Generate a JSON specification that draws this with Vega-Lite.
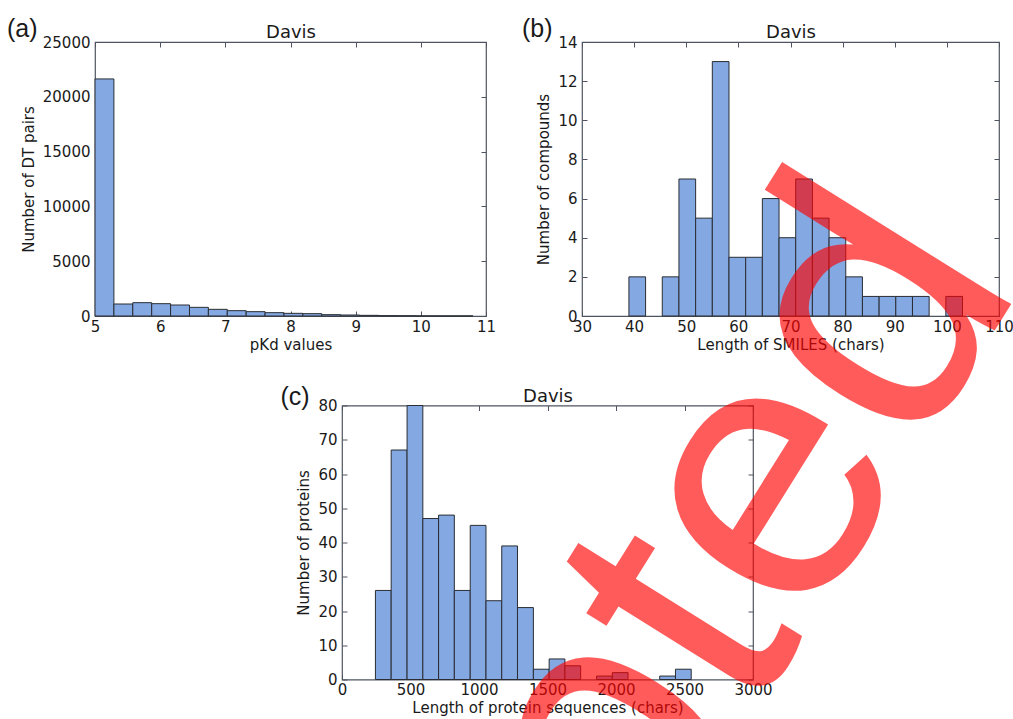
{
  "$schema": "https://vega.github.io/schema/vega-lite/v6.json",
  "autosize": {"type": "none"},
  "padding": {"left": 95, "top": 42, "right": 918, "bottom": 677},
  "background": "white",
  "spacing": -228.5,
  "datasets": {
    "a": [
      {"bin_start": 5.0, "bin_end": 5.29, "count": 21630},
      {"bin_start": 5.29, "bin_end": 5.58, "count": 1094},
      {"bin_start": 5.58, "bin_end": 5.87, "count": 1215},
      {"bin_start": 5.87, "bin_end": 6.16, "count": 1124},
      {"bin_start": 6.16, "bin_end": 6.45, "count": 1003},
      {"bin_start": 6.45, "bin_end": 6.74, "count": 790},
      {"bin_start": 6.74, "bin_end": 7.03, "count": 608},
      {"bin_start": 7.03, "bin_end": 7.32, "count": 486},
      {"bin_start": 7.32, "bin_end": 7.61, "count": 395},
      {"bin_start": 7.61, "bin_end": 7.9, "count": 304},
      {"bin_start": 7.9, "bin_end": 8.19, "count": 243},
      {"bin_start": 8.19, "bin_end": 8.48, "count": 213},
      {"bin_start": 8.48, "bin_end": 8.77, "count": 122},
      {"bin_start": 8.77, "bin_end": 9.06, "count": 91},
      {"bin_start": 9.06, "bin_end": 9.35, "count": 61},
      {"bin_start": 9.35, "bin_end": 9.64, "count": 30},
      {"bin_start": 9.64, "bin_end": 9.93, "count": 20},
      {"bin_start": 9.93, "bin_end": 10.22, "count": 8},
      {"bin_start": 10.22, "bin_end": 10.51, "count": 5},
      {"bin_start": 10.51, "bin_end": 10.8, "count": 3}
    ],
    "b": [
      {"bin_start": 39.0, "bin_end": 42.2, "count": 2},
      {"bin_start": 45.4, "bin_end": 48.6, "count": 2},
      {"bin_start": 48.6, "bin_end": 51.8, "count": 7},
      {"bin_start": 51.8, "bin_end": 55.0, "count": 5},
      {"bin_start": 55.0, "bin_end": 58.2, "count": 13},
      {"bin_start": 58.2, "bin_end": 61.4, "count": 3},
      {"bin_start": 61.4, "bin_end": 64.6, "count": 3},
      {"bin_start": 64.6, "bin_end": 67.8, "count": 6},
      {"bin_start": 67.8, "bin_end": 71.0, "count": 4},
      {"bin_start": 71.0, "bin_end": 74.2, "count": 7},
      {"bin_start": 74.2, "bin_end": 77.4, "count": 5},
      {"bin_start": 77.4, "bin_end": 80.6, "count": 4},
      {"bin_start": 80.6, "bin_end": 83.8, "count": 2},
      {"bin_start": 83.8, "bin_end": 87.0, "count": 1},
      {"bin_start": 87.0, "bin_end": 90.2, "count": 1},
      {"bin_start": 90.2, "bin_end": 93.4, "count": 1},
      {"bin_start": 93.4, "bin_end": 96.6, "count": 1},
      {"bin_start": 99.8, "bin_end": 103.0, "count": 1}
    ],
    "c": [
      {"bin_start": 244, "bin_end": 359, "count": 26},
      {"bin_start": 359, "bin_end": 475, "count": 67},
      {"bin_start": 475, "bin_end": 590, "count": 80},
      {"bin_start": 590, "bin_end": 705, "count": 47},
      {"bin_start": 705, "bin_end": 820, "count": 48},
      {"bin_start": 820, "bin_end": 936, "count": 26},
      {"bin_start": 936, "bin_end": 1051, "count": 45},
      {"bin_start": 1051, "bin_end": 1166, "count": 23},
      {"bin_start": 1166, "bin_end": 1281, "count": 39},
      {"bin_start": 1281, "bin_end": 1397, "count": 21},
      {"bin_start": 1397, "bin_end": 1512, "count": 3},
      {"bin_start": 1512, "bin_end": 1627, "count": 6},
      {"bin_start": 1627, "bin_end": 1742, "count": 4},
      {"bin_start": 1858, "bin_end": 1973, "count": 1},
      {"bin_start": 1973, "bin_end": 2088, "count": 2},
      {"bin_start": 2319, "bin_end": 2434, "count": 1},
      {"bin_start": 2434, "bin_end": 2549, "count": 3}
    ],
    "stamp": [
      {"word": "Accepted"}
    ]
  },
  "config": {
    "font": "DejaVu Sans",
    "view": {"stroke": "#4f5560", "strokeWidth": 1.2},
    "axis": {
      "grid": false,
      "domain": false,
      "tickSize": -5,
      "tickColor": "#4f5560",
      "labelFontSize": 15,
      "titleFontSize": 15,
      "titleFontWeight": "normal",
      "labelColor": "#1a1a1a",
      "titleColor": "#1a1a1a",
      "labelFlush": false,
      "labelOverlap": false
    },
    "axisX": {"labelPadding": 8, "titlePadding": 3},
    "axisY": {"labelPadding": 10, "titlePadding": 6},
    "title": {"fontWeight": "normal", "color": "#1a1a1a"}
  },
  "vconcat": [
    {
      "bounds": "flush",
      "spacing": 96,
      "hconcat": [
        {
          "width": 391,
          "height": 274,
          "title": {"text": "(a)", "anchor": "start", "frame": "group", "dx": -88, "dy": 22, "fontSize": 25, "font": "Liberation Sans"},
          "data": {"name": "a"},
          "layer": [
            {
              "mark": {"type": "bar", "fill": "#84a8e2", "stroke": "#2a2d33", "strokeWidth": 1},
              "encoding": {
                "x": {"field": "bin_start", "type": "quantitative", "scale": {"domain": [5, 11], "nice": false, "zero": false}, "axis": {"title": "pKd values", "values": [5, 6, 7, 8, 9, 10, 11], "format": "d"}},
                "x2": {"field": "bin_end"},
                "y": {"field": "count", "type": "quantitative", "scale": {"domain": [0, 25000], "nice": false}, "axis": {"title": "Number of DT pairs", "values": [0, 5000, 10000, 15000, 20000, 25000], "format": "d"}},
                "y2": {"datum": 0}
              }
            },
            {
              "mark": {"type": "bar", "opacity": 0},
              "encoding": {
                "x": {"field": "bin_start", "type": "quantitative", "axis": {"orient": "top", "title": "Davis", "titleFontSize": 18, "titlePadding": 0, "labels": false, "values": [5, 6, 7, 8, 9, 10, 11]}},
                "x2": {"field": "bin_end"},
                "y": {"field": "count", "type": "quantitative", "axis": {"orient": "right", "title": null, "labels": false, "values": [0, 5000, 10000, 15000, 20000, 25000]}},
                "y2": {"datum": 0}
              }
            }
          ],
          "resolve": {"axis": {"x": "independent", "y": "independent"}}
        },
        {
          "width": 417,
          "height": 274,
          "title": {"text": "(b)", "anchor": "start", "frame": "group", "dx": -60, "dy": 22, "fontSize": 25, "font": "Liberation Sans"},
          "data": {"name": "b"},
          "layer": [
            {
              "mark": {"type": "bar", "fill": "#84a8e2", "stroke": "#2a2d33", "strokeWidth": 1},
              "encoding": {
                "x": {"field": "bin_start", "type": "quantitative", "scale": {"domain": [30, 110], "nice": false, "zero": false}, "axis": {"title": "Length of SMILES (chars)", "values": [30, 40, 50, 60, 70, 80, 90, 100, 110], "format": "d"}},
                "x2": {"field": "bin_end"},
                "y": {"field": "count", "type": "quantitative", "scale": {"domain": [0, 14], "nice": false}, "axis": {"title": "Number of compounds", "values": [0, 2, 4, 6, 8, 10, 12, 14], "format": "d"}},
                "y2": {"datum": 0}
              }
            },
            {
              "mark": {"type": "bar", "opacity": 0},
              "encoding": {
                "x": {"field": "bin_start", "type": "quantitative", "axis": {"orient": "top", "title": "Davis", "titleFontSize": 18, "titlePadding": 0, "labels": false, "values": [30, 40, 50, 60, 70, 80, 90, 100, 110]}},
                "x2": {"field": "bin_end"},
                "y": {"field": "count", "type": "quantitative", "axis": {"orient": "right", "title": null, "labels": false, "values": [0, 2, 4, 6, 8, 10, 12, 14]}},
                "y2": {"datum": 0}
              }
            }
          ],
          "resolve": {"axis": {"x": "independent", "y": "independent"}}
        }
      ]
    },
    {
      "bounds": "flush",
      "spacing": 0,
      "hconcat": [
        {
          "width": 247,
          "height": 274,
          "view": {"stroke": null},
          "data": {"values": []},
          "mark": "point",
          "encoding": {}
        },
        {
          "width": 411,
          "height": 274,
          "layer": [
            {
              "data": {"name": "c"},
              "mark": {"type": "bar", "fill": "#84a8e2", "stroke": "#2a2d33", "strokeWidth": 1},
              "encoding": {
                "x": {"field": "bin_start", "type": "quantitative", "scale": {"domain": [0, 3000], "nice": false, "zero": false}, "axis": {"title": "Length of protein sequences (chars)", "values": [0, 500, 1000, 1500, 2000, 2500, 3000], "format": "d"}},
                "x2": {"field": "bin_end"},
                "y": {"field": "count", "type": "quantitative", "scale": {"domain": [0, 80], "nice": false}, "axis": {"title": "Number of proteins", "values": [0, 10, 20, 30, 40, 50, 60, 70, 80], "format": "d"}},
                "y2": {"datum": 0}
              }
            },
            {
              "data": {"name": "c"},
              "mark": {"type": "bar", "opacity": 0},
              "encoding": {
                "x": {"field": "bin_start", "type": "quantitative", "axis": {"orient": "top", "title": "Davis", "titleFontSize": 18, "titlePadding": 0, "labels": false, "values": [0, 500, 1000, 1500, 2000, 2500, 3000]}},
                "x2": {"field": "bin_end"},
                "y": {"field": "count", "type": "quantitative", "axis": {"orient": "right", "title": "(c)", "titleFont": "Liberation Sans", "titleFontSize": 25, "titleAngle": 0, "titleAlign": "left", "titleBaseline": "alphabetic", "titleX": -473, "titleY": -1, "labels": false, "values": [0, 10, 20, 30, 40, 50, 60, 70, 80]}},
                "y2": {"datum": 0}
              }
            },
            {
              "data": {"name": "stamp"},
              "mark": {"type": "text", "font": "Liberation Sans", "fontSize": 372, "angle": -58, "align": "right", "baseline": "alphabetic", "color": "#ff0000", "opacity": 0.64, "clip": false},
              "encoding": {
                "text": {"field": "word"},
                "x": {"datum": 4978, "type": "quantitative", "axis": null},
                "y": {"datum": 115.6, "type": "quantitative", "axis": null}
              }
            }
          ],
          "resolve": {"axis": {"x": "independent", "y": "independent"}}
        }
      ]
    }
  ]
}
